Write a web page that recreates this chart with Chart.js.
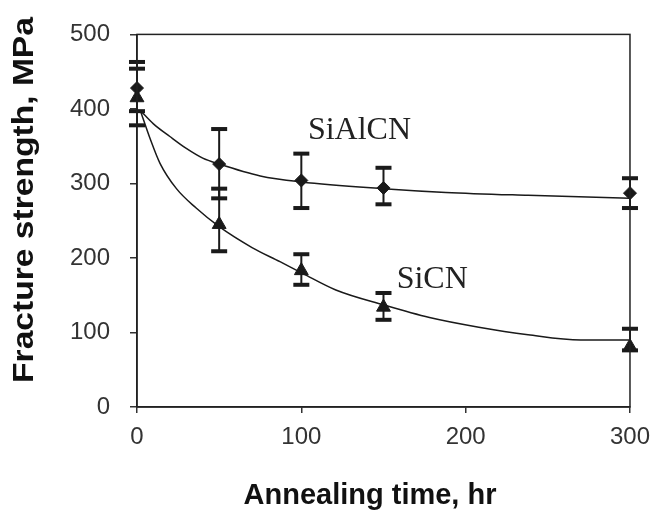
<!DOCTYPE html>
<html>
<head>
<meta charset="utf-8">
<script src="https://cdn.jsdelivr.net/npm/chart.js@4.4.1/dist/chart.umd.min.js"></script>
<style>
html,body{margin:0;padding:0;background:#fff;}
</style>
</head>
<body>
<canvas id="myChart" width="660" height="523"></canvas>
<script>
// annealing time, hr
var times = [0, 50, 100, 150, 300];
// fracture strength, MPa (points and error bar ends)
var sialcn = [428, 326, 304, 294, 287];
var sialcnHi = [463, 373, 340, 321, 307];
var sialcnLo = [397, 280, 267, 272, 267];
var sicn = [415, 245, 183, 134, 81];
var sicnHi = [454, 293, 205, 153, 105];
var sicnLo = [378, 209, 164, 117, 76];

// trend curves
var fitSialcnX = [2, 10, 20, 30, 40, 50, 75, 100, 150, 188, 238, 300];
var fitSialcnY = [398, 380, 363, 347, 334, 326, 310, 302, 293, 288, 284, 280];
var fitSicnX = [2, 8, 14, 24, 36, 50, 70, 87, 101, 121, 150, 178, 208, 238, 270, 300];
var fitSicnY = [398, 360, 327, 293, 267, 242, 214, 195, 179, 157, 137, 120, 107, 97, 90, 90];

var xTicks = [0, 100, 200, 300];
var yTicks = [0, 100, 200, 300, 400, 500];

var seriesLabels = [{text: 'SiAlCN', x: 104, y: 359}, {text: 'SiCN', x: 158, y: 160}];

var ink = '#1a1a1a';

function pts(xs, ys) {
  return xs.map((x, i) => ({x: x, y: ys[i]}));
}

var errorBars = {
  id: 'errorBars',
  beforeDatasetsDraw(chart) {
    const ctx = chart.ctx, sx = chart.scales.x, sy = chart.scales.y;
    ctx.save();
    ctx.strokeStyle = ink;
    ctx.fillStyle = ink;
    ctx.lineWidth = 2;
    [[sialcnHi, sialcnLo], [sicnHi, sicnLo]].forEach(function (pair) {
      times.forEach(function (t, i) {
        const px = sx.getPixelForValue(t);
        const top = sy.getPixelForValue(pair[0][i]);
        const bot = sy.getPixelForValue(pair[1][i]);
        ctx.beginPath();
        ctx.moveTo(px, top);
        ctx.lineTo(px, bot);
        ctx.stroke();
        ctx.fillRect(px - 8, top - 2, 16, 4);
        ctx.fillRect(px - 8, bot - 2, 16, 4);
      });
    });
    ctx.restore();
  }
};

var frameAndText = {
  id: 'frameAndText',
  afterDraw(chart) {
    const ctx = chart.ctx, a = chart.chartArea, sx = chart.scales.x, sy = chart.scales.y;
    ctx.save();
    ctx.strokeStyle = '#222';
    ctx.lineWidth = 1.5;
    ctx.strokeRect(a.left, a.top, a.right - a.left, a.bottom - a.top);

    ctx.fillStyle = '#222';
    ctx.font = '32px "Liberation Serif"';
    ctx.textBaseline = 'alphabetic';
    ctx.textAlign = 'left';
    seriesLabels.forEach(function (l) {
      ctx.fillText(l.text, sx.getPixelForValue(l.x), sy.getPixelForValue(l.y));
    });

    // axis titles
    ctx.fillStyle = '#111';
    ctx.textAlign = 'center';
    ctx.textBaseline = 'middle';
    ctx.font = 'bold 29px "Liberation Sans"';
    ctx.fillText('Annealing time, hr', 370, 496);
    ctx.translate(25, 200);
    ctx.rotate(-Math.PI / 2);
    ctx.scale(1.12, 1);
    ctx.font = 'bold 30px "Liberation Sans"';
    ctx.fillText('Fracture strength, MPa', 0, 0);
    ctx.restore();
  }
};

const ctx = document.getElementById('myChart');

new Chart(ctx, {
  type: 'line',
  data: {
    datasets: [
      {
        label: 'SiAlCN fit',
        data: pts(fitSialcnX, fitSialcnY),
        borderColor: ink,
        borderWidth: 1.5,
        pointRadius: 0,
        cubicInterpolationMode: 'monotone'
      },
      {
        label: 'SiCN fit',
        data: pts(fitSicnX, fitSicnY),
        borderColor: ink,
        borderWidth: 1.5,
        pointRadius: 0,
        cubicInterpolationMode: 'monotone'
      },
      {
        label: 'SiAlCN',
        data: pts(times, sialcn),
        showLine: false,
        clip: false,
        pointStyle: 'rectRot',
        pointRadius: 6.5,
        backgroundColor: ink,
        borderColor: ink
      },
      {
        label: 'SiCN',
        data: pts(times, sicn),
        showLine: false,
        clip: false,
        pointStyle: 'triangle',
        pointRadius: 8,
        backgroundColor: ink,
        borderColor: ink
      }
    ]
  },
  options: {
    responsive: false,
    animation: false,
    layout: {padding: {top: 25, right: 28, left: 0, bottom: 0}},
    plugins: {legend: {display: false}, tooltip: {enabled: false}},
    scales: {
      x: {
        type: 'linear',
        min: 0,
        max: 300,
        afterBuildTicks: function (s) { s.ticks = xTicks.map(v => ({value: v})); },
        afterFit: function (s) { s.height = 116; },
        grid: {drawOnChartArea: false, tickLength: 6, color: '#333', lineWidth: 1.5},
        border: {color: '#222', width: 1.5},
        ticks: {font: {family: 'Liberation Sans', size: 24}, color: '#333', padding: 10, maxRotation: 0}
      },
      y: {
        min: 0,
        max: 500,
        afterBuildTicks: function (s) { s.ticks = yTicks.map(v => ({value: v})); },
        afterFit: function (s) { s.width = 137; },
        grid: {drawOnChartArea: false, tickLength: 7, color: '#333', lineWidth: 1.5},
        border: {color: '#222', width: 1.5},
        ticks: {font: {family: 'Liberation Sans', size: 24}, color: '#333', padding: 20}
      }
    }
  },
  plugins: [errorBars, frameAndText]
});
</script>
</body>
</html>
